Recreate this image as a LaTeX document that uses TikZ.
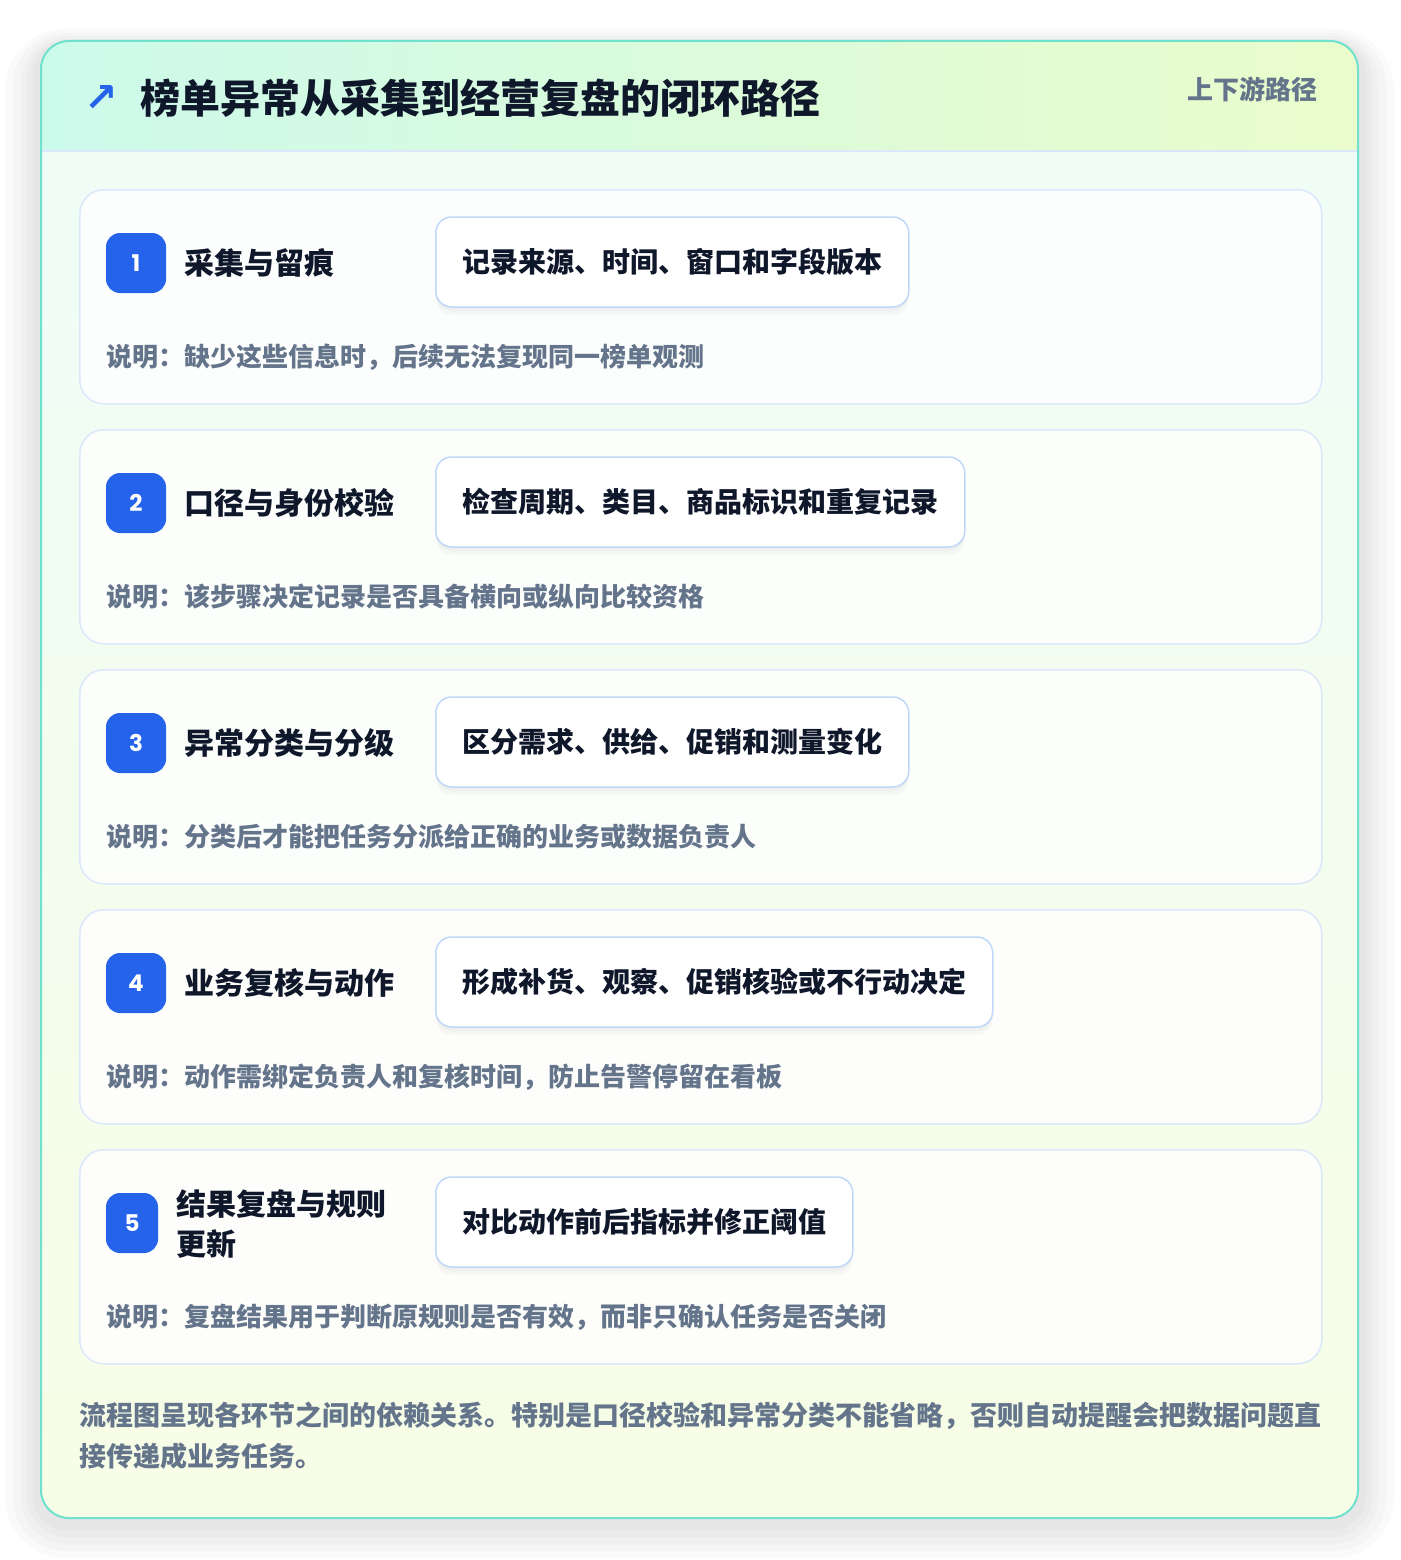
\documentclass[tikz,border=0pt]{standalone}
\usepackage{fontspec}
\setmainfont{Noto Sans CJK SC}
\newfontfamily\symfont{DejaVu Sans}
\newfontfamily\digitfont{Poppins}[BoldFont={Poppins Bold}]

\definecolor{ink}{HTML}{0F172A}
\definecolor{muted}{HTML}{64748B}
\definecolor{accent}{HTML}{2563EB}
\definecolor{rim}{HTML}{6EE2CC}
\definecolor{headl}{HTML}{CCFAEB}
\definecolor{headr}{HTML}{EAFCCB}
\definecolor{bodytop}{HTML}{EFFDF8}
\definecolor{bodybot}{HTML}{F7FDE6}
\definecolor{cardline}{HTML}{DBE7FB}
\definecolor{boxline}{HTML}{BFD7F8}

\begin{document}
\begin{tikzpicture}[x=1pt,y=-1pt]
	\tikzstyle{card}=[rectangle, anchor=north west, rounded corners=24, minimum width=1242, minimum height=214, draw=cardline, line width=1.5, fill=white, fill opacity=.82, text opacity=1]
	\tikzstyle{badge}=[rectangle, rounded corners=14, minimum width=60, minimum height=60, inner sep=0, fill=accent, text=white, font=\digitfont\bfseries\fontsize{23}{23}\selectfont]
	\tikzstyle{steptitle}=[anchor=west, inner sep=0, text=ink, align=left, font=\bfseries\fontsize{30}{40}\selectfont]
	\tikzstyle{detail}=[rectangle, anchor=west, rounded corners=16, minimum height=90, inner xsep=26.5, draw=boxline, line width=1.5, fill=white, text=ink, font=\bfseries\fontsize{28}{32}\selectfont,
		preaction={fill=black, opacity=.025, transform canvas={yshift=-8pt}},
		preaction={fill=black, opacity=.03, transform canvas={yshift=-4pt}}]
	\tikzstyle{note}=[anchor=west, inner sep=0, text=muted, font=\bfseries\fontsize{26}{30}\selectfont]
	\tikzstyle{haze}=[black, opacity=.018]

	\fill[white] (0,0) rectangle (1400,1560);
	\useasboundingbox (0,0) rectangle (1400,1560);

	% soft shadow round the panel
	\fill[haze, rounded corners=60] (5,29) rectangle (1394,1558);
	\fill[haze, rounded corners=52] (13,33) rectangle (1386,1551);
	\fill[haze, rounded corners=46] (21,36) rectangle (1378,1544);
	\fill[haze, rounded corners=40] (27,39) rectangle (1372,1537);
	\fill[haze, rounded corners=34] (33,41) rectangle (1366,1530);

	% outer panel
	\path[rounded corners=28, top color=bodytop, bottom color=bodybot] (41,41) rectangle (1358,1518);
	\begin{scope}
		\clip[rounded corners=28] (41,41) rectangle (1358,1518);
		\path[left color=headl, right color=headr] (41,41) rectangle (1358,151);
	\end{scope}
	\draw[cardline, line width=1.5] (42,151) -- (1357,151);
	\draw[rim, line width=2, rounded corners=28] (41,41) rectangle (1358,1518);

	\node[text=accent, inner sep=0, font=\symfont\bfseries\fontsize{40}{40}\selectfont] (icon) at (101,99) {↗};
	\node[anchor=west, inner sep=0, text=ink, font=\bfseries\fontsize{40}{48}\selectfont] (title) at (140,98) {榜单异常从采集到经营复盘的闭环路径};
	\node[anchor=east, inner sep=0, text=muted, font=\bfseries\fontsize{26}{30}\selectfont] (tag) at (1318,89) {上下游路径};

	% step 1
	\node[card] (card1) at (79,189) {};
	\node[badge] (badge1) at (136,263) {1};
	\node[steptitle] (title1) at (184,263) {采集与留痕};
	\node[detail] (detail1) at (435,262) {记录来源、时间、窗口和字段版本};
	\node[note] (note1) at (106,357) {说明：缺少这些信息时，后续无法复现同一榜单观测};

	% step 2
	\node[card] (card2) at (79,429) {};
	\node[badge] (badge2) at (136,503) {2};
	\node[steptitle] (title2) at (184,503) {口径与身份校验};
	\node[detail] (detail2) at (435,502) {检查周期、类目、商品标识和重复记录};
	\node[note] (note2) at (106,597) {说明：该步骤决定记录是否具备横向或纵向比较资格};

	% step 3
	\node[card] (card3) at (79,669) {};
	\node[badge] (badge3) at (136,743) {3};
	\node[steptitle] (title3) at (184,743) {异常分类与分级};
	\node[detail] (detail3) at (435,742) {区分需求、供给、促销和测量变化};
	\node[note] (note3) at (106,837) {说明：分类后才能把任务分派给正确的业务或数据负责人};

	% step 4
	\node[card] (card4) at (79,909) {};
	\node[badge] (badge4) at (136,983) {4};
	\node[steptitle] (title4) at (184,983) {业务复核与动作};
	\node[detail] (detail4) at (435,982) {形成补货、观察、促销核验或不行动决定};
	\node[note] (note4) at (106,1077) {说明：动作需绑定负责人和复核时间，防止告警停留在看板};

	% step 5
	\node[card] (card5) at (79,1149) {};
	\node[badge, minimum width=52] (badge5) at (132,1223) {5};
	\node[steptitle] (title5) at (176,1224) {结果复盘与规则\\更新};
	\node[detail] (detail5) at (435,1222) {对比动作前后指标并修正阈值};
	\node[note] (note5) at (106,1317) {说明：复盘结果用于判断原规则是否有效，而非只确认任务是否关闭};

	\node[anchor=west, inner sep=0, text=muted, align=left, font=\bfseries\fontsize{27}{41}\selectfont] (footer) at (79,1436) {流程图呈现各环节之间的依赖关系。特别是口径校验和异常分类不能省略，否则自动提醒会把数据问题直\\接传递成业务任务。};
\end{tikzpicture}
\end{document}
